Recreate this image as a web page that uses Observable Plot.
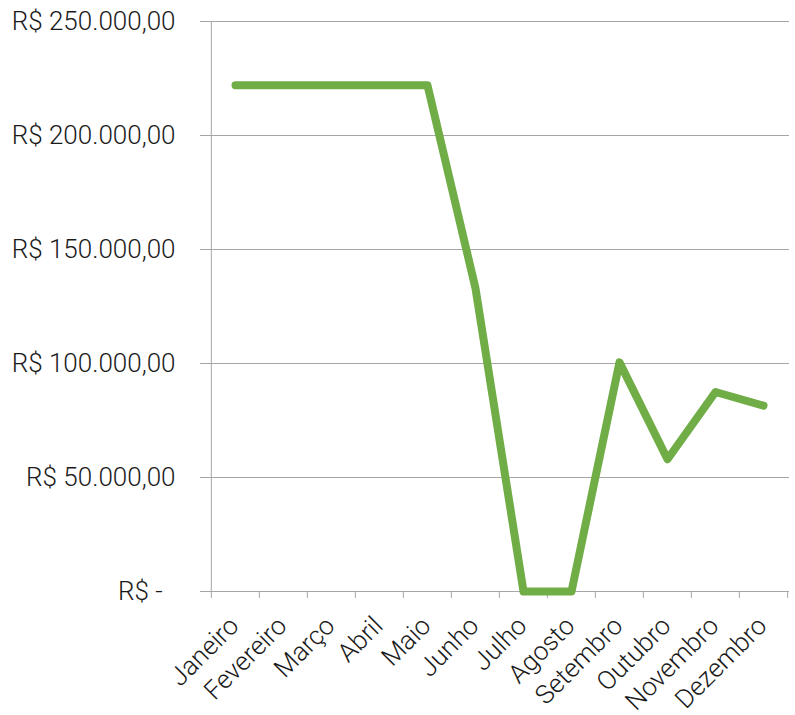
<!DOCTYPE html>
<html>
<head>
<meta charset="utf-8">
<script src="https://cdn.jsdelivr.net/npm/d3@7"></script>
<script src="https://cdn.jsdelivr.net/npm/@observablehq/plot@0.6"></script>
<style>
  html, body { margin: 0; padding: 0; background: #fff; }
  svg text { font-family: Roboto, sans-serif; font-weight: 300; white-space: pre; }
</style>
</head>
<body>
<div id="chart"></div>
<script>
const months = ["Janeiro","Fevereiro","Março","Abril","Maio","Junho","Julho","Agosto","Setembro","Outubro","Novembro","Dezembro"];
const values = [222000,222000,222000,222000,222000,133000,0,0,100500,58000,87500,81500];
const yTicks = [0,50000,100000,150000,200000,250000];
const yLabels = ["R$ -\u00a0\u00a0","R$ 50.000,00","R$ 100.000,00","R$ 150.000,00","R$ 200.000,00","R$ 250.000,00"];

const data = months.map((m, i) => ({month: m, value: values[i]}));
const W = 795, H = 715;
const mL = 209, mR = 6, mT = 21, mB = 124;
const step = (W - mL - mR) / months.length;
const grid = "#a6a6a6";

const chart = Plot.plot({
  width: W, height: H,
  marginLeft: mL, marginRight: mR, marginTop: mT, marginBottom: mB,
  style: {fontFamily: "Roboto, sans-serif", fontWeight: 300, background: "#fff", overflow: "visible"},
  x: {type: "point", domain: months, padding: 0.5, axis: null},
  y: {domain: [0, 250000], axis: null},
  marks: [
    Plot.ruleY(yTicks, {y: d => d, stroke: grid, strokeWidth: 1, insetLeft: -9}),
    Plot.ruleX([months[0]], {x: d => d, dx: -step/2, y1: 250000, y2: 0, insetBottom: -7, stroke: grid}),
    Plot.ruleX(months.slice(1), {x: d => d, dx: -step/2, y1: 0, y2: 0, insetBottom: -7, stroke: grid}),
    Plot.ruleX([months[months.length-1]], {x: d => d, dx: step/2, y1: 0, y2: 0, insetBottom: -7, stroke: grid}),
    Plot.text(yTicks, {y: d => d, text: (d, i) => yLabels[i], frameAnchor: "left", textAnchor: "end", dx: -34, fontSize: 26, fill: "#1a1a1a"}),
    Plot.text(months, {x: d => d, text: d => d, frameAnchor: "bottom", textAnchor: "end", lineAnchor: "middle", rotate: -45, dx: -1, dy: 30, fontSize: 26, fill: "#1a1a1a"}),
    Plot.line(data, {x: "month", y: "value", stroke: "#70ad47", strokeWidth: 8, strokeLinecap: "round", strokeLinejoin: "round", clip: false})
  ]
});
document.getElementById("chart").appendChild(chart);
</script>
</body>
</html>
